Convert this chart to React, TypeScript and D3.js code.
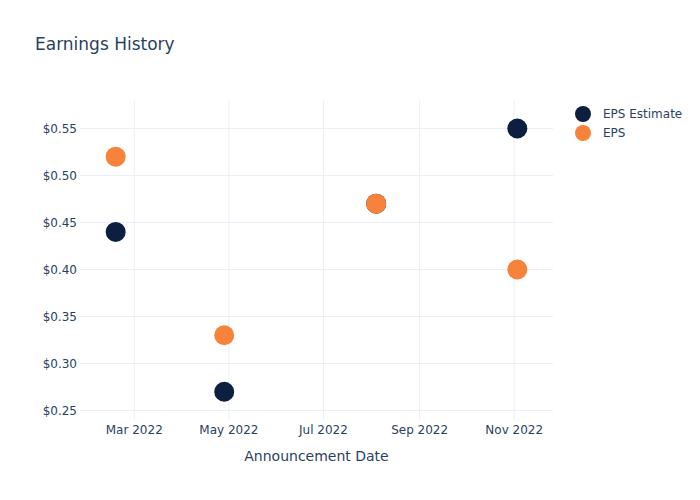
import React from "react";
import * as d3 from "d3";

const dates = ["2022-02-17", "2022-04-28", "2022-08-04", "2022-11-03"];
const epsEstimate = [0.44, 0.27, 0.47, 0.55];
const epsActual = [0.52, 0.33, 0.47, 0.4];
const yTicks = [0.25, 0.3, 0.35, 0.4, 0.45, 0.5, 0.55];
const xTickDates = ["2022-03-01", "2022-05-01", "2022-07-01", "2022-09-01", "2022-11-01"];
const seriesNames = ["EPS Estimate", "EPS"];
const colors = ["#0c1f3f", "#f7823a"];

const W = 700, H = 500;
const M = { l: 80, r: 147, t: 100, b: 80 };
const parse = d3.utcParse("%Y-%m-%d");
const font = "DejaVu Sans, sans-serif";
const textColor = "#2a3f5f";
const gridColor = "#ebf0f8";

export default function App() {
  const x = d3
    .scaleUtc()
    .domain([parse("2022-01-25")!, parse("2022-11-26")!])
    .range([M.l, W - M.r]);
  const y = d3.scaleLinear().domain([0.2399, 0.5803]).range([H - M.b, M.t]);
  const fmtX = d3.utcFormat("%b %Y");
  const series = [epsEstimate, epsActual];

  return (
    <svg width={W} height={H} style={{ position: "absolute", left: 0, top: 0, background: "#fff" }}>
      <text x={35} y={50} fontFamily={font} fontSize={17} fill={textColor}>
        Earnings History
      </text>
      {xTickDates.map((d) => (
        <line key={d} x1={x(parse(d)!)} x2={x(parse(d)!)} y1={M.t} y2={H - M.b} stroke={gridColor} strokeWidth={1} />
      ))}
      {yTicks.map((v) => (
        <line key={v} x1={M.l} x2={W - M.r} y1={y(v)} y2={y(v)} stroke={gridColor} strokeWidth={1} />
      ))}
      {yTicks.map((v) => (
        <text key={v} x={M.l - 3} y={y(v)} dy="0.35em" textAnchor="end" fontFamily={font} fontSize={12} fill={textColor}>
          {d3.format("$.2f")(v)}
        </text>
      ))}
      {xTickDates.map((d) => (
        <text key={d} x={x(parse(d)!)} y={H - M.b + 14} textAnchor="middle" fontFamily={font} fontSize={12} fill={textColor}>
          {fmtX(parse(d)!)}
        </text>
      ))}
      <text x={(M.l + W - M.r) / 2} y={461} textAnchor="middle" fontFamily={font} fontSize={14} fill={textColor}>
        Announcement Date
      </text>
      {series.map((vals, si) =>
        vals.map((v, i) => (
          <circle key={`${si}-${i}`} cx={x(parse(dates[i])!)} cy={y(v)} r={10} fill={colors[si]} />
        ))
      )}
      {seriesNames.map((n, i) => (
        <g key={n} transform={`translate(583,${114 + i * 19})`}>
          <circle r={8} fill={colors[i]} />
          <text x={20} dy="0.35em" fontFamily={font} fontSize={12} fill={textColor}>
            {n}
          </text>
        </g>
      ))}
    </svg>
  );
}
